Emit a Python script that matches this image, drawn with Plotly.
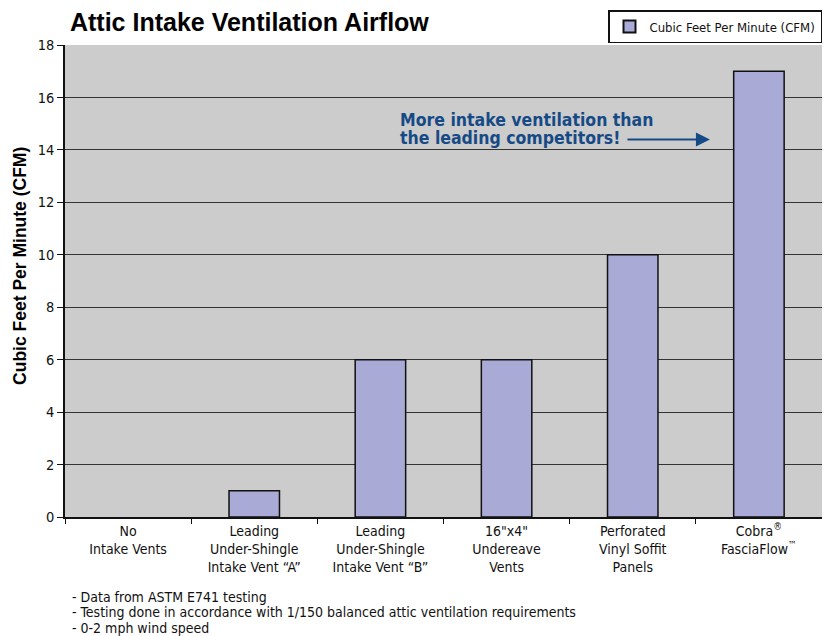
import plotly.graph_objects as go

categories = [
    "No<br>Intake Vents",
    "Leading<br>Under-Shingle<br>Intake Vent “A”",
    "Leading<br>Under-Shingle<br>Intake Vent “B”",
    "16\"x4\"<br>Undereave<br>Vents",
    "Perforated<br>Vinyl Soffit<br>Panels",
    "Cobra<sup>®</sup><br>FasciaFlow<sup>™</sup>",
]
cfm_values = [0, 1, 6, 6, 10, 17]
y_ticks = [0, 2, 4, 6, 8, 10, 12, 14, 16, 18]
series_name = "Cubic Feet Per Minute (CFM)"
y_title = "Cubic Feet Per Minute (CFM)"
callout_lines = ["More intake ventilation than", "the leading competitors!"]
footnotes = [
    "- Data from ASTM E741 testing",
    "- Testing done in accordance with 1/150 balanced attic ventilation requirements",
    "- 0-2 mph wind speed",
]

NARROW = "DejaVu Sans Condensed, Liberation Sans Narrow, sans-serif"
BOLD = "Liberation Sans, Arial, sans-serif"
BLUE = "#164a86"

fig = go.Figure()
fig.add_trace(go.Bar(
    x=categories, y=cfm_values, name=series_name,
    marker=dict(color="#aaaad6", line=dict(color="#111111", width=[0 if v == 0 else 1.5 for v in cfm_values])),
    width=0.4, showlegend=True,
))

fig.update_layout(
    width=822, height=628,
    margin=dict(l=57, r=8, t=37, b=119, autoexpand=False),
    paper_bgcolor="white", plot_bgcolor="#cccccc",
    font=dict(family=NARROW, size=14, color="#111111"),
    title=dict(text="<b>Attic Intake Ventilation Airflow</b>", x=0.0754, xanchor="left",
               y=0.977, yanchor="middle", font=dict(family=BOLD, size=25, color="#000000")),
    showlegend=True,
    legend=dict(x=1, y=1.004, xanchor="right", yanchor="bottom", bordercolor="#111111",
                borderwidth=1.5, bgcolor="white", font=dict(family=NARROW, size=13),
                itemsizing="constant", itemwidth=30),
    bargap=0.6,
)
fig.update_yaxes(
    range=[0, 18], tickvals=y_ticks, showgrid=True, gridcolor="#333333", gridwidth=1,
    showline=True, linecolor="#111111", linewidth=1.5, ticks="outside", ticklen=6,
    tickcolor="#111111", tickfont=dict(family=NARROW, size=14.5), zeroline=False,
)
fig.update_xaxes(
    showline=True, linecolor="#111111", linewidth=1.5, ticks="outside", ticklen=5,
    tickson="boundaries", tickcolor="#111111", tickfont=dict(family=NARROW, size=14),
)

fig.add_annotation(
    xref="paper", yref="paper", x=-0.0594, y=0.532, xanchor="center", yanchor="middle",
    text="<b>" + y_title + "</b>", textangle=-90, showarrow=False,
    font=dict(family=BOLD, size=17.5, color="#000000"),
)
for line, yv in zip(callout_lines, [15.14, 14.45]):
    fig.add_annotation(
        xref="paper", yref="y", x=0.44, y=yv, xanchor="left", yanchor="middle",
        text="<b>" + line + "</b>", showarrow=False,
        align="left", font=dict(family=NARROW, size=17.5, color=BLUE),
    )
fig.add_annotation(
    xref="paper", yref="y", x=0.852, y=14.4, ax=-84, ay=0, text="", showarrow=True,
    arrowhead=2, arrowsize=1.4, arrowwidth=2, arrowcolor=BLUE,
)
for line, yp in zip(footnotes, [-0.1695, -0.2023, -0.2352]):
    fig.add_annotation(
        xref="paper", yref="paper", x=0.006, y=yp, xanchor="left", yanchor="middle",
        text=line, showarrow=False, align="left",
        font=dict(family=NARROW, size=14, color="#111111"),
    )

fig.write_html("out.html")
